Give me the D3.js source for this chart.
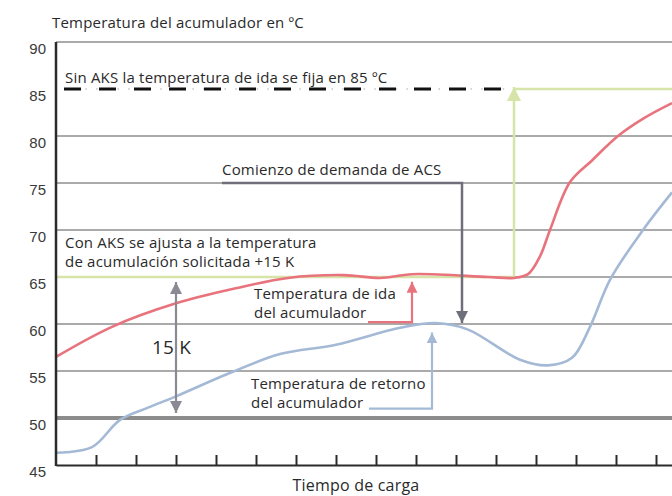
<!DOCTYPE html>
<html>
<head>
<meta charset="utf-8">
<script src="https://cdn.jsdelivr.net/npm/d3@7"></script>
<style>
  body { margin: 0; background: #fff; }
  svg { display: block; }
  .note { font-family: "Open Sans", sans-serif; font-size: 15px; fill: #2a2a2a; letter-spacing: 0.2px; }
</style>
</head>
<body>
<div id="chart"></div>
<script>
/* Data (time in charge units, temperature in ºC) */
const idaTime = [0, 1.4, 3, 4.5, 5.8, 7.2, 8.1, 8.9, 10.8, 11.45, 11.8, 12.1, 12.35, 12.85, 13.4, 14.05, 14.7, 15.4];
const idaTemp = [56.5, 59.7, 62.2, 63.8, 64.9, 65.2, 64.9, 65.3, 65.0, 64.9, 65.3, 67.2, 70.0, 75.1, 77.4, 80.0, 81.9, 83.5];

const retornoTime = [0, 0.9, 1.6, 2.3, 3, 4.3, 5.6, 7, 8.6, 9.5, 10.3, 11.6, 12.3, 12.9, 13.35, 13.85, 14.675, 15.4];
const retornoTemp = [46.3, 46.9, 49.8, 51.1, 52.3, 54.7, 56.8, 57.8, 59.6, 60.1, 59.4, 56.2, 55.6, 56.4, 59.7, 64.7, 70.0, 74.0];

const yTicks = [45, 50, 55, 60, 65, 70, 75, 80, 85, 90];
const gridTemps = [90, 80, 75, 70, 60, 55];
const xTicks = [1, 2, 3, 4, 5, 6, 7, 8, 9, 10, 11, 12, 13, 14, 15];

const akSetpoint = 65, noAksSetpoint = 85, baseTemp = 50;
const demandStart = 10.15;   // comienzo de demanda de ACS
const switchTime = 11.45;    // salto a 85 ºC

/* Dimensions */
const width = 672, height = 496;
const x = d3.scaleLinear().domain([0, 15.4]).range([56, 672]);
const y = d3.scaleLinear().domain([45, 90]).range([465, 42]);

const colIda = '#e9737d', colRet = '#a4b9d5', colGreen = '#d6e4a9',
      colGrid = '#8e8e8e', colArrow = '#6f6f7b';

const svg = d3.select('#chart').append('svg')
  .attr('width', width).attr('height', height);

const defs = svg.append('defs');
function marker(id, color, size) {
  defs.append('marker')
    .attr('id', id)
    .attr('viewBox', '0 0 10 10')
    .attr('refX', 10).attr('refY', 5)
    .attr('markerUnits', 'userSpaceOnUse')
    .attr('markerWidth', size).attr('markerHeight', size)
    .attr('orient', 'auto-start-reverse')
    .append('path')
    .attr('d', 'M0,0 L10,5 L0,10 Z')
    .attr('fill', color);
}
marker('arrRed', colIda, 11);
marker('arrBlue', colRet, 11);
marker('arrGrey', colArrow, 12);
marker('arrGrey2', '#8a8a95', 12);
marker('arrGreen', colGreen, 14);

/* Grid */
svg.selectAll('.grid')
  .data(gridTemps)
  .enter().append('line')
  .attr('x1', x(0)).attr('x2', x(15.4))
  .attr('y1', d => y(d)).attr('y2', d => y(d))
  .attr('stroke', colGrid).attr('stroke-width', 1.5);

// 65 line: grey part right of the jump
svg.append('line')
  .attr('x1', x(switchTime)).attr('x2', x(15.4))
  .attr('y1', y(akSetpoint)).attr('y2', y(akSetpoint))
  .attr('stroke', colGrid).attr('stroke-width', 1.5);

// thick 50 line
svg.append('line')
  .attr('x1', x(0)).attr('x2', x(15.4))
  .attr('y1', y(baseTemp)).attr('y2', y(baseTemp))
  .attr('stroke', '#8c8c8c').attr('stroke-width', 4);

/* Green setpoint path */
svg.append('line')
  .attr('x1', x(0)).attr('x2', x(switchTime))
  .attr('y1', y(akSetpoint)).attr('y2', y(akSetpoint))
  .attr('stroke', colGreen).attr('stroke-width', 2.5);
svg.append('line')
  .attr('x1', x(switchTime)).attr('x2', x(15.4))
  .attr('y1', y(noAksSetpoint)).attr('y2', y(noAksSetpoint))
  .attr('stroke', colGreen).attr('stroke-width', 2.5);
svg.append('line')
  .attr('x1', x(switchTime)).attr('x2', x(switchTime))
  .attr('y1', y(akSetpoint)).attr('y2', y(noAksSetpoint) - 2)
  .attr('stroke', colGreen).attr('stroke-width', 2.5)
  .attr('marker-end', 'url(#arrGreen)');

/* 85 dashed line */
svg.append('line')
  .attr('x1', x(0.2)).attr('x2', x(11.3))
  .attr('y1', y(noAksSetpoint)).attr('y2', y(noAksSetpoint))
  .attr('stroke', '#c4c4c4').attr('stroke-width', 1.5)
  .attr('stroke-dasharray', '1.5 9.2');
svg.append('line')
  .attr('x1', x(0.2)).attr('x2', x(11.3))
  .attr('y1', y(noAksSetpoint)).attr('y2', y(noAksSetpoint))
  .attr('stroke', '#111').attr('stroke-width', 3.2)
  .attr('stroke-dasharray', '17 18');

/* Curves */
const line = d3.line()
  .x(d => x(d[0])).y(d => y(d[1]))
  .curve(d3.curveCatmullRom.alpha(0.5));

svg.append('path')
  .datum(d3.zip(retornoTime, retornoTemp))
  .attr('d', line)
  .attr('fill', 'none').attr('stroke', colRet).attr('stroke-width', 2.6);

svg.append('path')
  .datum(d3.zip(idaTime, idaTemp))
  .attr('d', line)
  .attr('fill', 'none').attr('stroke', colIda).attr('stroke-width', 2.6);

/* Demand annotation */
svg.append('path')
  .attr('d', d3.line()([[x(4.15), y(75)], [x(demandStart), y(75)], [x(demandStart), y(60) - 1]]))
  .attr('fill', 'none').attr('stroke', colArrow).attr('stroke-width', 2.5)
  .attr('marker-end', 'url(#arrGrey)');

/* 15 K double arrow */
svg.append('line')
  .attr('x1', x(3)).attr('x2', x(3))
  .attr('y1', y(baseTemp) - 5).attr('y2', y(akSetpoint) + 5)
  .attr('stroke', '#8a8a95').attr('stroke-width', 2.2)
  .attr('marker-start', 'url(#arrGrey2)')
  .attr('marker-end', 'url(#arrGrey2)');

/* Callouts */
svg.append('path')
  .attr('d', d3.line()([[x(7.8), y(60.2)], [x(8.9), y(60.2)], [x(8.9), y(64.5)]]))
  .attr('fill', 'none').attr('stroke', colIda).attr('stroke-width', 2.2)
  .attr('marker-end', 'url(#arrRed)');
svg.append('path')
  .attr('d', d3.line()([[x(7.825), y(51.0)], [x(9.4), y(51.0)], [x(9.4), y(59.1)]]))
  .attr('fill', 'none').attr('stroke', colRet).attr('stroke-width', 2.2)
  .attr('marker-end', 'url(#arrBlue)');

/* Axes */
const yAxis = svg.append('g')
  .attr('transform', 'translate(' + x(0) + ',0)')
  .call(d3.axisLeft(y).tickValues(yTicks).tickSize(0).tickPadding(10));
yAxis.select('.domain').remove();
yAxis.selectAll('text')
  .attr('dy', '0.75em')
  .attr('y', 0)
  .style('font-family', '"Liberation Sans", Arial, sans-serif')
  .style('font-size', '15px')
  .style('fill', '#3a3a3a');

svg.append('line')
  .attr('x1', x(0)).attr('x2', x(0))
  .attr('y1', y(90)).attr('y2', y(45) + 1)
  .attr('stroke', '#2b2b2b').attr('stroke-width', 2.5);

const xAxis = svg.append('g')
  .attr('transform', 'translate(0,' + y(45) + ')')
  .call(d3.axisBottom(x).tickValues(xTicks).tickSizeInner(-10).tickSizeOuter(0).tickFormat(''));
xAxis.select('.domain').attr('stroke', '#2b2b2b').attr('stroke-width', 2.2);
xAxis.selectAll('.tick line').attr('stroke', '#2b2b2b').attr('stroke-width', 2);

/* Texts */
svg.append('text').attr('class', 'note')
  .attr('x', 52).attr('y', 28)
  .text('Temperatura del acumulador en  ºC');

svg.append('text').attr('class', 'note')
  .attr('x', 356).attr('y', 491)
  .attr('text-anchor', 'middle')
  .style('font-size', '16px')
  .text('Tiempo de carga');

svg.append('text').attr('class', 'note')
  .attr('x', 65).attr('y', 83)
  .text('Sin AKS la temperatura de ida se fija en 85 ºC');

svg.append('text').attr('class', 'note')
  .attr('x', 222).attr('y', 175)
  .text('Comienzo de demanda de ACS');

svg.append('text').attr('class', 'note')
  .attr('x', 65).attr('y', 248)
  .text('Con AKS se ajusta a la temperatura');
svg.append('text').attr('class', 'note')
  .attr('x', 65).attr('y', 267)
  .text('de acumulación solicitada +15 K');

svg.append('text').attr('class', 'note')
  .attr('x', 254).attr('y', 299)
  .text('Temperatura de ida');
svg.append('text').attr('class', 'note')
  .attr('x', 254).attr('y', 318)
  .text('del acumulador');

svg.append('text').attr('class', 'note')
  .attr('x', 251).attr('y', 389)
  .text('Temperatura de retorno');
svg.append('text').attr('class', 'note')
  .attr('x', 251).attr('y', 408)
  .text('del acumulador');

svg.append('text').attr('class', 'note')
  .attr('x', 152).attr('y', 354)
  .style('font-size', '19px')
  .text('15 K');
</script>
</body>
</html>
